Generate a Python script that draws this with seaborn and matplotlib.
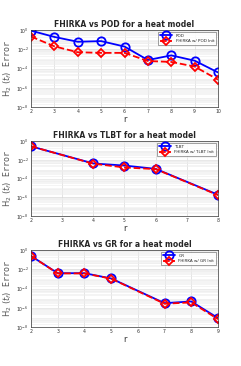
import numpy as np
import pandas as pd
import matplotlib
matplotlib.use("Agg")
import matplotlib.pyplot as plt
import seaborn as sns
from matplotlib.ticker import LogLocator, NullFormatter

sns.set_style("white")
plt.rcParams['font.family'] = ['DejaVu Sans']

# Panel 1: POD
r1 = [2, 3, 4, 5, 6, 7, 8, 9, 10]
pod = [0.85, 0.19, 0.06, 0.07, 0.019, 7.6e-4, 2.3e-3, 6.5e-4, 3.9e-5]
fhirka_pod = [0.21, 0.02, 4.9e-3, 4.2e-3, 4.2e-3, 6e-4, 4.8e-4, 1.6e-4, 7e-6]

# Panel 2: TLBT
r2 = [2, 4, 5, 6, 8]
tlbt = [0.27, 4e-3, 2.4e-3, 1.07e-3, 1.85e-6]
fhirka_tlbt = [0.27, 3.8e-3, 1.5e-3, 1.0e-3, 1.7e-6]

# Panel 3: GR
r3 = [2, 3, 4, 5, 7, 8, 9]
gr = [0.24, 3.9e-3, 3.9e-3, 1.1e-3, 3e-6, 4.5e-6, 8.5e-8]
fhirka_gr = [0.24, 3.7e-3, 3.7e-3, 1.05e-3, 2.6e-6, 3.6e-6, 6.5e-8]

panels = [
    ("FHIRKA vs POD for a heat model", r1, pod, fhirka_pod, "POD", "FHIRKA w/ POD Init", 10),
    ("FHIRKA vs TLBT for a heat model", r2, tlbt, fhirka_tlbt, "TLBT", "FHIRKA w/ TLBT Init", 8),
    ("FHIRKA vs GR for a heat model", r3, gr, fhirka_gr, "GR", "FHIRKA w/ GR Init", 9),
]

fig = plt.figure(figsize=(2.41, 3.66), dpi=100)
left, width = 31/241, 187/241
boxes = [(107, 77), (216, 75), (327, 77)]

for (title, r, base, fh, lab1, lab2, xmax), (bot, h) in zip(panels, boxes):
    ax = fig.add_axes([left, 1 - bot/366, width, h/366])
    df = pd.DataFrame({"r": r, "base": base, "fh": fh})
    sns.lineplot(data=df, x="r", y="base", ax=ax, color="blue", lw=1.3,
                 marker="o", ms=6, mfc="none", mec="blue", mew=1.3, label=lab1)
    sns.lineplot(data=df, x="r", y="fh", ax=ax, color="red", lw=1.3, ls="--",
                 marker="D", ms=4.5, mfc="none", mec="red", mew=1.3, label=lab2)
    ax.set_yscale("log")
    ax.set_ylim(1e-8, 1e0)
    ax.set_xlim(2, xmax)
    ax.set_xticks(list(range(2, xmax + 1)))
    ax.set_yticks([1e-8, 1e-6, 1e-4, 1e-2, 1e0])
    ax.yaxis.set_minor_locator(LogLocator(base=10, subs=np.arange(2, 10), numticks=50))
    ax.yaxis.set_minor_formatter(NullFormatter())
    ax.grid(True, which="major", color="#d8d8d8", lw=0.5)
    ax.grid(True, which="minor", color="#ececec", lw=0.4)
    ax.tick_params(axis="both", which="major", labelsize=3.3, length=2, width=0.4, pad=1.5,
                   direction="in", labelcolor="#333333")
    ax.tick_params(axis="y", which="minor", length=1, width=0.3, direction="in")
    for s in ax.spines.values():
        s.set_linewidth(0.5)
        s.set_color("#333333")
    ax.set_title(title, fontsize=5.5, fontweight="bold", pad=2.5)
    ax.set_xlabel("r", fontsize=6, labelpad=1, color="#333333")
    ax.set_ylabel(r"$\mathrm{H}_2\ (t_f)\ \ \mathtt{Error}$", fontsize=6, family="serif",
                  labelpad=2, color="#555555")
    leg = ax.legend(loc="upper right", fontsize=3.0, frameon=True, fancybox=False,
                    edgecolor="#333333", handlelength=3, borderpad=0.4, labelspacing=0.3)
    leg.get_frame().set_linewidth(0.4)

fig.savefig("out.png", dpi=100)
